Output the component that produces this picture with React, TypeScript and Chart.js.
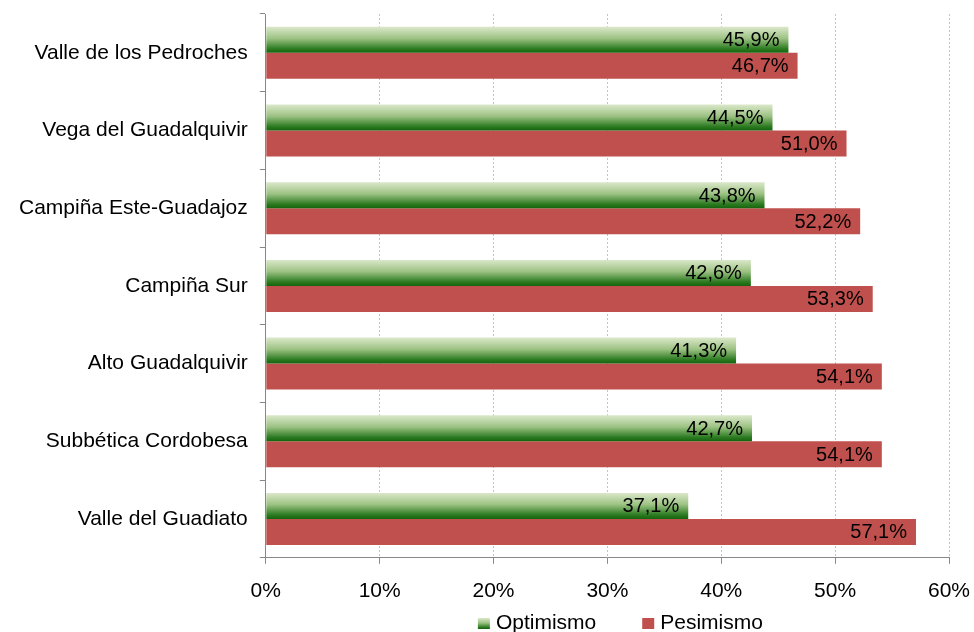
import React, { useEffect, useRef } from "react";
import { Chart, registerables } from "chart.js";

Chart.register(...registerables);

const categories = [
  "Valle de los Pedroches",
  "Vega del Guadalquivir",
  "Campiña Este-Guadajoz",
  "Campiña Sur",
  "Alto Guadalquivir",
  "Subbética Cordobesa",
  "Valle del Guadiato",
];
const optimismo = [45.9, 44.5, 43.8, 42.6, 41.3, 42.7, 37.1];
const pesimismo = [46.7, 51.0, 52.2, 53.3, 54.1, 54.1, 57.1];
const seriesNames = ["Optimismo", "Pesimismo"];

const FONT = "'Liberation Sans', Arial, sans-serif";
const FS = 21;
const FS_LABEL = 20;
const RED = "#C0504D";
const CAT_PCT = 0.67;

function greenGradient(ctx: CanvasRenderingContext2D, top: number, bottom: number) {
  const g = ctx.createLinearGradient(0, top, 0, bottom);
  g.addColorStop(0, "#dbe8ca");
  g.addColorStop(0.45, "#9cc283");
  g.addColorStop(0.85, "#2b7a20");
  g.addColorStop(1, "#16630e");
  return g;
}

const dataLabels = {
  id: "dataLabels",
  afterDatasetsDraw(chart: any) {
    const ctx = chart.ctx;
    ctx.save();
    ctx.font = `${FS_LABEL}px ${FONT}`;
    ctx.fillStyle = "#000";
    ctx.textAlign = "right";
    ctx.textBaseline = "middle";
    chart.data.datasets.forEach((ds: any, di: number) => {
      const meta = chart.getDatasetMeta(di);
      meta.data.forEach((el: any, i: number) => {
        const v = ds.data[i] as number;
        const txt = v.toFixed(1).replace(".", ",") + "%";
        ctx.fillText(txt, el.x - 9, el.y + 1);
      });
    });
    ctx.restore();
  },
};

const customLegend = {
  id: "customLegend",
  afterDraw(chart: any) {
    const ctx = chart.ctx;
    const ca = chart.chartArea;
    ctx.save();
    ctx.font = `${FS}px ${FONT}`;
    const box = 12;
    const gapBoxText = 6;
    const gapItems = 46;
    const widths = seriesNames.map((n) => ctx.measureText(n).width);
    const total = widths.reduce((a, w) => a + box + gapBoxText + w, 0) + gapItems * (seriesNames.length - 1);
    let x = (ca.left + ca.right) / 2 + 13 - total / 2;
    const baseline = chart.height - 3;
    seriesNames.forEach((n, i) => {
      const by = baseline - 11;
      ctx.fillStyle = i === 0 ? greenGradient(ctx, by, by + 11) : RED;
      ctx.fillRect(x, by, box, 11);
      x += box + gapBoxText;
      ctx.fillStyle = "#000";
      ctx.textAlign = "left";
      ctx.textBaseline = "alphabetic";
      ctx.fillText(n, x, baseline);
      x += widths[i] + gapItems;
    });
    ctx.restore();
  },
};

export default function App() {
  const ref = useRef<HTMLCanvasElement | null>(null);
  useEffect(() => {
    if (!ref.current) return;
    const chart = new Chart(ref.current, {
      type: "bar",
      data: {
        labels: categories,
        datasets: [
          {
            label: seriesNames[0],
            data: optimismo,
            backgroundColor: (c: any) => {
              const ch = c.chart;
              const ys = ch.scales && ch.scales.y;
              if (!ys || c.dataIndex === undefined) return "#4a8f3a";
              const center = ys.getPixelForValue(c.dataIndex);
              const band = (ys.bottom - ys.top) / categories.length;
              const h = (band * CAT_PCT) / 2;
              if (!isFinite(center) || !isFinite(h) || h <= 0) return "#4a8f3a";
              return greenGradient(ch.ctx, center - h, center);
            },
            borderWidth: 0,
            categoryPercentage: CAT_PCT,
            barPercentage: 1,
          },
          {
            label: seriesNames[1],
            data: pesimismo,
            backgroundColor: RED,
            borderWidth: 0,
            categoryPercentage: CAT_PCT,
            barPercentage: 1,
          },
        ],
      },
      options: {
        indexAxis: "y",
        responsive: false,
        animation: false,
        layout: { padding: { left: 7, top: 14, right: 25, bottom: 13 } },
        plugins: {
          legend: { display: false },
          tooltip: { enabled: false },
        },
        scales: {
          x: {
            min: 0,
            max: 60,
            afterFit: (s: any) => {
              s.paddingLeft = 0;
              s.paddingRight = 0;
            },
            ticks: {
              stepSize: 10,
              callback: (v: any) => `${v}%`,
              color: "#000",
              font: { family: FONT, size: FS },
              padding: 15,
              maxRotation: 0,
            },
            grid: {
              color: "#c4c4c4",
              tickColor: "#888",
              tickLength: 6,
              tickBorderDash: [],
            } as any,
            border: { color: "#888", width: 1, dash: [2, 2] },
          },
          y: {
            afterFit: (s: any) => {
              s.paddingTop = 0;
              s.paddingBottom = 0;
            },
            ticks: {
              color: "#000",
              font: { family: FONT, size: FS },
              padding: 12,
            },
            grid: {
              offset: true,
              drawOnChartArea: false,
              tickColor: "#888",
              tickLength: 6,
            },
            border: { color: "#888", width: 1 },
          },
        },
      } as any,
      plugins: [dataLabels, customLegend],
    });
    return () => chart.destroy();
  }, []);
  return (
    <canvas
      ref={ref}
      width={974}
      height={632}
      style={{ position: "fixed", left: 0, top: 0, width: 974, height: 632, display: "block" }}
    />
  );
}
